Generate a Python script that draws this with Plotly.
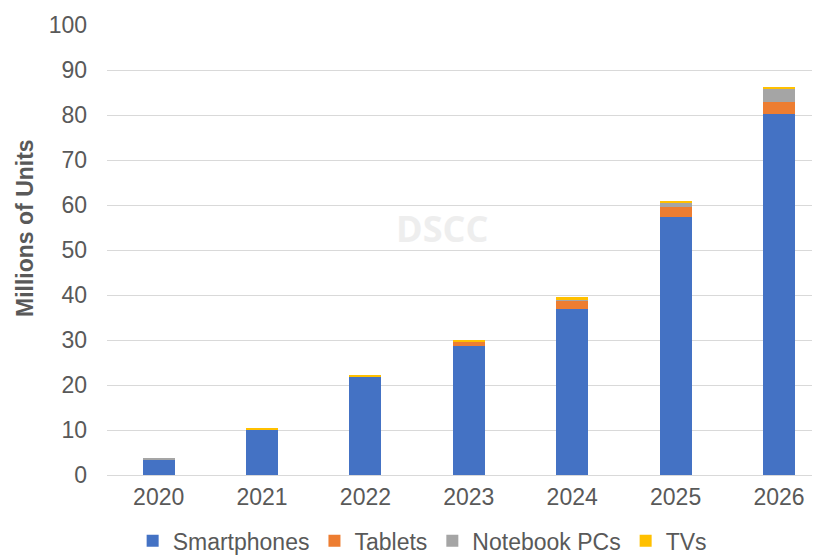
import plotly.graph_objects as go

years = ["2020", "2021", "2022", "2023", "2024", "2025", "2026"]
smartphones = [3.4, 10.0, 21.8, 28.7, 36.8, 57.3, 80.2]
tablets = [0.0, 0.0, 0.1, 0.9, 1.9, 2.2, 2.8]
notebook_pcs = [0.3, 0.1, 0.0, 0.1, 0.4, 0.9, 2.9]
tvs = [0.0, 0.4, 0.4, 0.3, 0.4, 0.6, 0.4]

series = [
    ("Smartphones", smartphones, "#4472C4"),
    ("Tablets", tablets, "#ED7D31"),
    ("Notebook PCs", notebook_pcs, "#A5A5A5"),
    ("TVs", tvs, "#FFC000"),
]

FONT = "Arial, Liberation Sans, sans-serif"
GREY = "#595959"

fig = go.Figure()
for name, vals, color in series:
    fig.add_trace(go.Bar(x=years, y=vals, name=name,
                         marker=dict(color=color, line=dict(width=0))))

fig.update_layout(
    width=812, height=548,
    barmode="stack", bargap=0.69,
    paper_bgcolor="white", plot_bgcolor="white",
    margin=dict(l=99, r=0, t=17, b=81, autoexpand=False),
    font=dict(family=FONT, size=23, color=GREY),
    showlegend=True,
    legend=dict(orientation="h", x=0.442, xanchor="center", y=-0.146, yanchor="middle",
                font=dict(family=FONT, size=23, color=GREY), traceorder="normal",
                itemwidth=30),
    xaxis=dict(type="category", range=[-0.5, 6.397], showgrid=False, showline=False,
               ticks="", tickfont=dict(family=FONT, size=23, color=GREY),
               ticklabelstandoff=6),
    yaxis=dict(range=[0, 100], dtick=10, showgrid=True, gridcolor="#D9D9D9", gridwidth=1,
               zeroline=True, zerolinecolor="#D9D9D9", zerolinewidth=1,
               showline=False, ticks="", tickfont=dict(family=FONT, size=23, color=GREY),
               ticklabelstandoff=19),
    annotations=[
        dict(text="Millions of Units", xref="paper", yref="paper", x=-0.115, y=0.549,
             xanchor="center", yanchor="middle", textangle=-90, showarrow=False,
             font=dict(family=FONT, size=23, color=GREY, weight="bold")),
        dict(text="DSCC", xref="paper", yref="paper", x=0.470, y=0.547,
             xanchor="center", yanchor="middle", showarrow=False,
             font=dict(family="Open Sans, sans-serif", size=36, color="#EEEEEE", weight="bold")),
    ],
)

fig.write_html("out.html")
